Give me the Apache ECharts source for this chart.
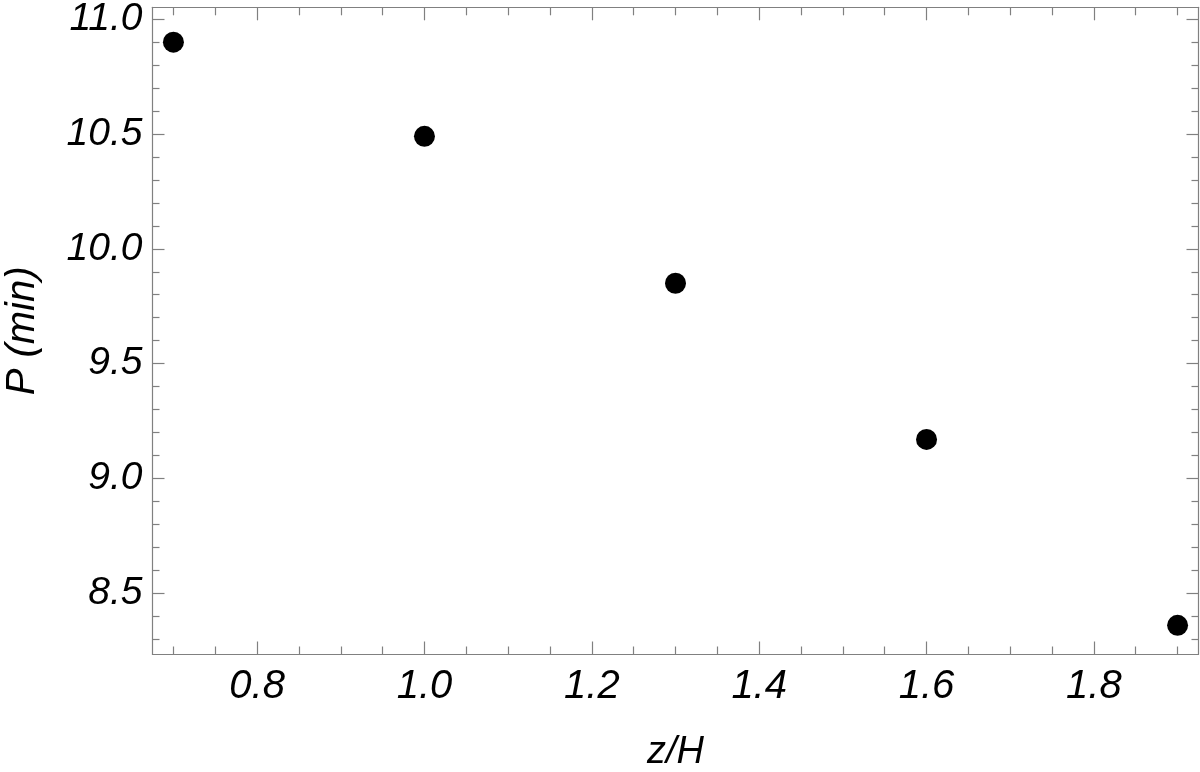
<!DOCTYPE html>
<html>
<head>
<meta charset="utf-8">
<script src="https://cdn.jsdelivr.net/npm/echarts@6/dist/echarts.min.js"></script>
<style>
html,body{margin:0;padding:0;background:#fff;}
#chart{width:1200px;height:772px;}
</style>
</head>
<body>
<div id="chart"></div>
<script>
// Data
var zOverH = [0.7, 1.0, 1.3, 1.6, 1.9];
var periodMin = [10.90, 10.49, 9.85, 9.17, 8.36];

// Tick labels / tick positions
var xMajorTicks = [0.8, 1.0, 1.2, 1.4, 1.6, 1.8];
var xMinorTicks = [0.7, 0.75, 0.85, 0.9, 0.95, 1.05, 1.1, 1.15, 1.25, 1.3, 1.35, 1.45, 1.5, 1.55, 1.65, 1.7, 1.75, 1.85, 1.9];
var yMajorTicks = [8.5, 9.0, 9.5, 10.0, 10.5, 11.0];
var yMinorTicks = [8.3, 8.4, 8.6, 8.7, 8.8, 8.9, 9.1, 9.2, 9.3, 9.4, 9.6, 9.7, 9.8, 9.9, 10.1, 10.2, 10.3, 10.4, 10.6, 10.7, 10.8, 10.9];

var xMin = 0.675, xMax = 1.925;
var yMin = 8.233, yMax = 11.052;

var frameColor = '#808080';
var fontFam = '"Liberation Sans", Arial, sans-serif';

function fmt(v){ return Number(v).toFixed(1); }

function xAx(pos, values, len, showLine, showLabel, extra){
  var a = {
    type: 'value', gridIndex: 0, position: pos, min: xMin, max: xMax,
    axisLine: {show: showLine, onZero: false, lineStyle: {color: frameColor, width: 1.2}},
    axisTick: {show: true, inside: true, length: len, customValues: values, lineStyle: {color: frameColor, width: 1.2}},
    axisLabel: {show: showLabel, customValues: values, formatter: fmt, margin: 12, fontFamily: fontFam, fontStyle: 'italic', fontSize: 40, color: '#000'},
    splitLine: {show: false}
  };
  if (extra) for (var k in extra) a[k] = extra[k];
  return a;
}
function yAx(pos, values, len, showLine, showLabel, extra){
  var a = {
    type: 'value', gridIndex: 0, position: pos, min: yMin, max: yMax,
    axisLine: {show: showLine, onZero: false, lineStyle: {color: frameColor, width: 1.2}},
    axisTick: {show: true, inside: true, length: len, customValues: values, lineStyle: {color: frameColor, width: 1.2}},
    axisLabel: {show: showLabel, customValues: values, formatter: fmt, margin: 10, fontFamily: fontFam, fontStyle: 'italic', fontSize: 39, color: '#000'},
    splitLine: {show: false}
  };
  if (extra) for (var k in extra) a[k] = extra[k];
  return a;
}

var points = zOverH.map(function(x, i){ return [x, periodMin[i]]; });

var chart = echarts.init(document.getElementById('chart'), null, {renderer: 'canvas'});
chart.setOption({
  backgroundColor: '#fff',
  animation: false,
  grid: {left: 152.5, right: 1.5, top: 7.3, bottom: 117.5, containLabel: false, outerBoundsMode: 'none'},
  xAxis: [
    xAx('bottom', xMajorTicks, 13, true, true, {
      name: 'z/H', nameLocation: 'middle', nameGap: 79,
      nameTextStyle: {fontFamily: fontFam, fontStyle: 'italic', fontSize: 38, color: '#000'}
    }),
    xAx('bottom', xMinorTicks, 8, false, false),
    xAx('top', xMajorTicks, 13, true, false),
    xAx('top', xMinorTicks, 8, false, false)
  ],
  yAxis: [
    yAx('left', yMajorTicks, 12, true, true, {
      name: 'P (min)', nameLocation: 'middle', nameGap: 110, nameRotate: 90,
      nameTextStyle: {fontFamily: fontFam, fontStyle: 'italic', fontSize: 40, color: '#000'}
    }),
    yAx('left', yMinorTicks, 7, false, false),
    yAx('right', yMajorTicks, 12, true, false),
    yAx('right', yMinorTicks, 7, false, false)
  ],
  series: [{
    type: 'scatter',
    xAxisIndex: 0, yAxisIndex: 0,
    data: points,
    symbol: 'circle',
    symbolSize: 21,
    itemStyle: {color: '#000', opacity: 1},
    clip: false
  }]
});
</script>
</body>
</html>
